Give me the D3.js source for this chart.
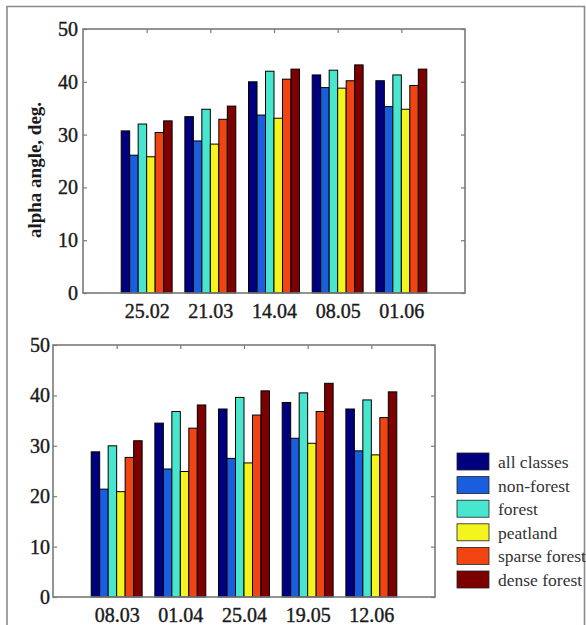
<!DOCTYPE html>
<html>
<head>
<meta charset="utf-8">
<script src="https://cdn.jsdelivr.net/npm/d3@7"></script>
<style>
  body { margin: 0; background: #fff; }
  svg { display: block; }
  text { font-family: "Liberation Serif", "Times New Roman", serif; }
</style>
</head>
<body>
<div id="chart"></div>
<script>
// dates on the two acquisition sets
const datesTop = ["25.02", "21.03", "14.04", "08.05", "01.06"];
const datesBottom = ["08.03", "01.04", "25.04", "19.05", "12.06"];

const classes = ["all classes", "non-forest", "forest", "peatland", "sparse forest", "dense forest"];
const classColors = ["#00007f", "#1a5ee0", "#48e6cf", "#f4f41e", "#f04412", "#7c0000"];

// alpha angle (deg.) per class, upper panel
const allTop = [30.7, 33.4, 40.0, 41.3, 40.2];
const nonForestTop = [26.1, 28.8, 33.7, 38.9, 35.3];
const forestTop = [32.0, 34.8, 42.0, 42.2, 41.3];
const peatlandTop = [25.8, 28.2, 33.1, 38.8, 34.8];
const sparseTop = [30.4, 32.9, 40.5, 40.2, 39.3];
const denseTop = [32.6, 35.4, 42.4, 43.2, 42.4];

// lower panel
const allBottom = [28.8, 34.5, 37.3, 38.6, 37.3];
const nonForestBottom = [21.4, 25.4, 27.5, 31.5, 29.0];
const forestBottom = [30.0, 36.8, 39.6, 40.5, 39.1];
const peatlandBottom = [20.9, 24.9, 26.6, 30.5, 28.2];
const sparseBottom = [27.7, 33.5, 36.1, 36.8, 35.6];
const denseBottom = [31.0, 38.1, 40.9, 42.4, 40.7];

const yTicks = [0, 10, 20, 30, 40, 50];

const width = 586, height = 625;

const svg = d3.select("#chart").append("svg")
    .attr("width", width)
    .attr("height", height);

// outer frame of the figure
svg.append("path")
    .attr("d", "M7,625 V6.5 H584.5 V625")
    .attr("fill", "none")
    .attr("stroke", "#8a8a8a")
    .attr("stroke-width", 1.6);

function panel({dates, series, left, right, top, bottom, labelOffset, yPad}) {
    const x = d3.scaleLinear().domain([0, dates.length + 1]).range([left, right]);
    const y = d3.scaleLinear().domain([0, 50]).range([bottom, top]);
    const slot = x(1) - x(0);
    const inner = d3.scaleBand().domain(d3.range(classes.length)).range([-0.4 * slot, 0.4 * slot]).padding(0);

    const g = svg.append("g");

    dates.forEach((d, i) => {
        g.append("g")
            .selectAll("rect")
            .data(series)
            .join("rect")
            .attr("x", (s, k) => x(i + 1) + inner(k))
            .attr("y", s => y(s[i]))
            .attr("width", inner.bandwidth())
            .attr("height", s => y(0) - y(s[i]))
            .attr("fill", (s, k) => classColors[k])
            .attr("stroke", "#000")
            .attr("stroke-width", 1);
    });

    const axisColor = "#7a7a7a";
    const tickIdx = d3.range(1, dates.length + 1);

    g.append("g")
        .attr("transform", `translate(${left},0)`)
        .call(d3.axisLeft(y).tickValues(yTicks).tickSize(-4).tickPadding(yPad))
        .call(a => a.select(".domain").remove());
    g.append("g")
        .attr("transform", `translate(${right},0)`)
        .call(d3.axisRight(y).tickValues(yTicks).tickSize(-4).tickFormat(""))
        .call(a => a.select(".domain").remove());
    g.append("g")
        .attr("transform", `translate(0,${top})`)
        .call(d3.axisTop(x).tickValues(tickIdx).tickSize(-4).tickFormat(""))
        .call(a => a.select(".domain").remove());
    g.append("g")
        .attr("transform", `translate(0,${bottom})`)
        .call(d3.axisBottom(x).tickValues(tickIdx).tickSize(0).tickPadding(labelOffset)
            .tickFormat(i => dates[i - 1]))
        .call(a => a.select(".domain").remove());

    g.selectAll(".tick line").attr("stroke", axisColor).attr("stroke-width", 1.2);
    // heavy, slightly blurred digits of the scanned figure
    g.selectAll(".tick text")
        .attr("fill", "#1a1a1a")
        .attr("stroke", "#1a1a1a")
        .attr("stroke-width", 0.4)
        .attr("font-size", 20);

    g.append("rect")
        .attr("x", left).attr("y", top)
        .attr("width", right - left).attr("height", bottom - top)
        .attr("fill", "none")
        .attr("stroke", axisColor)
        .attr("stroke-width", 1.6);
    return g;
}

panel({
    dates: datesTop,
    series: [allTop, nonForestTop, forestTop, peatlandTop, sparseTop, denseTop],
    left: 83, right: 465, top: 29, bottom: 293,
    labelOffset: 11, yPad: 5
});

svg.append("text")
    .attr("transform", "translate(41,170) rotate(-90)")
    .attr("text-anchor", "middle")
    .attr("font-size", 19)
    .attr("font-weight", "bold")
    .attr("fill", "#1a1a1a")
    .text("alpha angle, deg.");

panel({
    dates: datesBottom,
    series: [allBottom, nonForestBottom, forestBottom, peatlandBottom, sparseBottom, denseBottom],
    left: 53, right: 435, top: 345, bottom: 597,
    labelOffset: 11, yPad: 3
});

// legend
const legend = svg.append("g").attr("transform", "translate(457,453)");
const row = legend.selectAll("g")
    .data(classes)
    .join("g")
    .attr("transform", (d, i) => `translate(0,${i * 23.6})`);
row.append("rect")
    .attr("width", 32).attr("height", 17)
    .attr("fill", (d, i) => classColors[i])
    .attr("stroke", "#222")
    .attr("stroke-width", 0.8);
row.append("text")
    .attr("x", 41).attr("y", 15)
    .attr("font-size", 17.5)
    .attr("fill", "#333")
    .text(d => d);
</script>
</body>
</html>
